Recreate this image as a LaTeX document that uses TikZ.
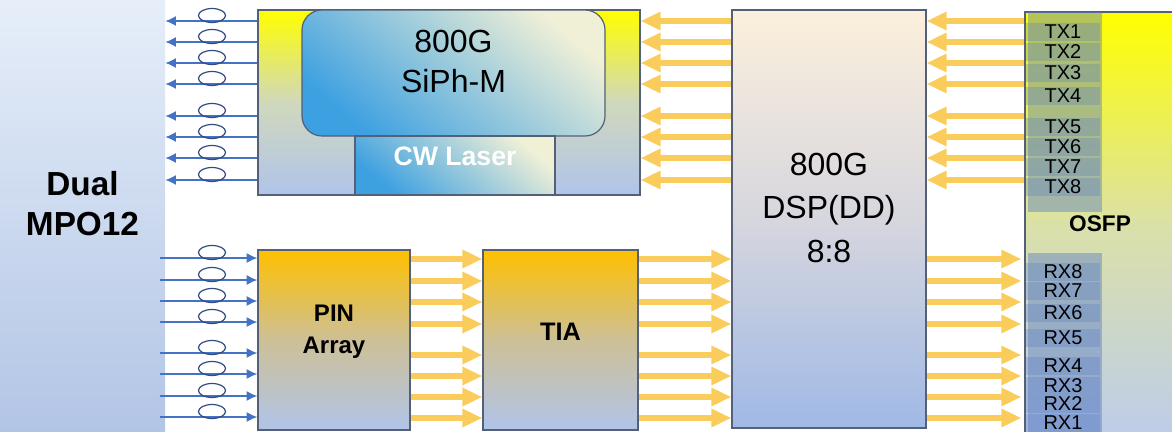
\documentclass[tikz,border=0pt]{standalone}
\usepackage{fontspec}
\setmainfont{Liberation Sans}
\usetikzlibrary{arrows.meta,fit}

\definecolor{fiberblue}{RGB}{68,114,196}
\definecolor{ringblue}{RGB}{50,75,130}
\definecolor{busgold}{RGB}{250,204,92}
\definecolor{edgegray}{RGB}{84,96,120}
\definecolor{paleblue}{RGB}{176,196,234}
\definecolor{chipblue}{RGB}{60,160,225}
\definecolor{cream}{RGB}{240,240,215}
\definecolor{laneblue}{RGB}{90,125,195}

\tikzset{
  block/.style={draw=edgegray, line width=0.9pt, inner sep=0pt, align=center},
  fiber/.style={draw=fiberblue, line width=1.2pt, -{Latex[length=8pt,width=7.5pt]}},
  ring/.style={draw=ringblue, line width=0.9pt},
  bus/.style={draw=busgold, line width=5pt, -{Triangle[length=15pt,width=13pt]}},
  lane/.style={fill=laneblue, fill opacity=0.3, text opacity=1, inner sep=0pt,
    minimum width=55.5pt, minimum height=14pt, font=\fontsize{15}{15}\selectfont},
}

\begin{document}
\begin{tikzpicture}[x=0.75pt,y=-0.75pt]
  \useasboundingbox (0,0) rectangle (1172,432);

  % Fibre connector and optical blocks
  \node[inner sep=0pt, top color={rgb,255:red,230;green,238;blue,249}, bottom color={rgb,255:red,178;green,197;blue,229},
    fit={(0,0) (165,432)}, align=center, font=\bfseries\fontsize{25}{30}\selectfont] (mpo) {Dual\\MPO12};
  \node[block, top color=yellow, bottom color=paleblue, middle color={rgb,255:red,208;green,216;blue,188},
    fit={(258,10) (640,195)}] (txbox) {};
  \node[block, rounded corners=15pt, top color=cream, bottom color=chipblue, shading angle=-40,
    fit={(302,10) (605,136)}, font=\fontsize{24}{30}\selectfont] (siph) {800G\\SiPh-M};
  \node[block, top color=cream, bottom color=chipblue, shading angle=-40, text=white,
    fit={(355,136) (555,195)}, font=\bfseries\fontsize{20}{24}\selectfont] (laser) {CW Laser};
  \node[block, top color={rgb,255:red,255;green,192;blue,0}, bottom color=paleblue, middle color={rgb,255:red,205;green,192;blue,150},
    fit={(258,250) (410,430)}, font=\bfseries\fontsize{18}{24}\selectfont] (pin) {PIN\\Array};
  \node[block, top color={rgb,255:red,255;green,192;blue,0}, bottom color=paleblue, middle color={rgb,255:red,205;green,192;blue,150},
    fit={(483,250) (638,430)}, font=\bfseries\fontsize{19}{24}\selectfont] (tia) {TIA};
  \node[block, top color={rgb,255:red,252;green,240;blue,220}, bottom color={rgb,255:red,160;green,185;blue,230},
    middle color={rgb,255:red,214;green,214;blue,222},
    fit={(732,10) (926,428)}, font=\fontsize{24}{32.6}\selectfont] (dsp) {800G\\DSP(DD)\\8:8};
  \node[block, top color=yellow, bottom color={rgb,255:red,188;green,204;blue,236}, middle color={rgb,255:red,218;green,224;blue,170},
    fit={(1025,12) (1185,445)}] (osfp) {};

  % Lane columns
  \node[fill=laneblue, fill opacity=0.45, inner sep=0pt, fit={(1028,12) (1102,212)}] (txcol) {};
  \node[fill=laneblue, fill opacity=0.45, inner sep=0pt, fit={(1028,253) (1102,432)}] (rxcol) {};
  \foreach \n/\y in {1/32,2/52,3/73,4/96,5/127,6/147,7/167,8/187}
    \node[lane] (tx\n) at (1063,\y) {TX\n};
  \foreach \n/\y in {8/272,7/291,6/313,5/338,4/366,3/386,2/404,1/423}
    \node[lane] (rx\n) at (1063,\y) {RX\n};
  \node[font=\bfseries\fontsize{17}{17}\selectfont] (osfplabel) at (1100,224) {OSFP};

  % Fibres with rings
  \foreach \y in {21,42,63,84,116,137,158,180}{
    \draw[fiber] (txbox.west |- 0,\y) -- (mpo.east |- 0,\y);
    \draw[ring] (212,\y-5.5) ellipse [x radius=13.5, y radius=7];
  }
  \foreach \y in {258,280,301,322,353,374,396,417}{
    \draw[fiber] ([xshift=-4pt]mpo.east |- 0,\y) -- (pin.west |- 0,\y);
    \draw[ring] (212,\y-5.5) ellipse [x radius=13.5, y radius=7];
  }

  % Electrical lanes
  \foreach \y in {21,42,63,84,116,137,158,180}{
    \draw[bus] (dsp.west |- 0,\y) -- (txbox.east |- 0,\y);
    \draw[bus] (osfp.west |- 0,\y) -- (dsp.east |- 0,\y);
  }
  \foreach \y in {259,281,302,324,355,376,397,418}{
    \draw[bus] (pin.east |- 0,\y) -- (tia.west |- 0,\y);
    \draw[bus] (tia.east |- 0,\y) -- (dsp.west |- 0,\y);
    \draw[bus] (dsp.east |- 0,\y) -- ([xshift=-2.25pt]osfp.west |- 0,\y);
  }
\end{tikzpicture}
\end{document}
